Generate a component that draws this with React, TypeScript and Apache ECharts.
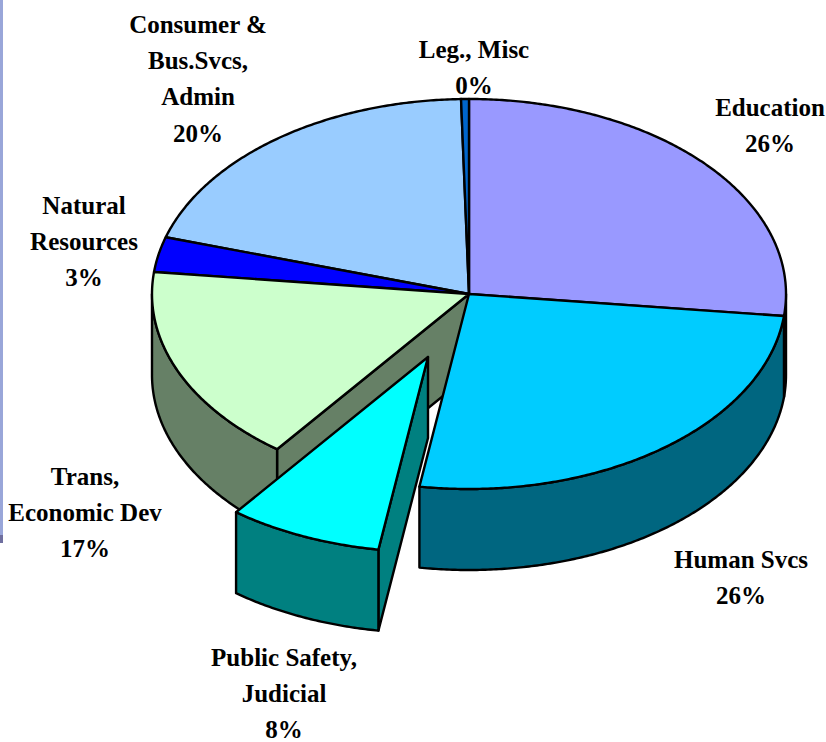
import React, { useEffect, useRef } from "react";
import * as echarts from "echarts";

const categories = ["Education", "Human Svcs", "Public Safety, Judicial", "Trans, Economic Dev", "Natural Resources", "Consumer & Bus.Svcs, Admin", "Leg., Misc"];
const values = [26.8, 25.7, 7.85, 16.45, 2.9, 19.9, 0.4];
const labelLines = [["Education", "26%"], ["Human Svcs", "26%"], ["Public Safety,", "Judicial", "8%"], ["Trans,", "Economic Dev", "17%"], ["Natural", "Resources", "3%"], ["Consumer &", "Bus.Svcs,", "Admin", "20%"], ["Leg., Misc", "0%"]];
const topColors = ["#9999FF", "#00CCFF", "#00FFFF", "#CCFFCC", "#0000FF", "#99CCFF", "#0066CC"];
const wallColors = ["#666699", "#006680", "#008080", "#668066", "#000099", "#668099", "#004488"];
const exploded = [false, false, true, false, false, false, false];
const drawOrder = [0, 5, 6, 4, 3, 1, 2];

const PIE = { cx: 469, cy: 294, rx: 317, ry: 195, depth: 81, dx: -41, dy: 63 };
const LABEL_POS = [[770, 107], [741, 559], [284, 657], [85, 476], [84, 205], [198, 24], [474, 49]];
const LINE_STEP = 36.4;

const total = values.reduce((a, b) => a + b, 0);
const starts: number[] = [];
values.reduce((acc, v, i) => { starts[i] = (acc / total) * 360; return acc + v; }, 0);

function renderItem(_params: any, api: any) {
  const idx = api.value(1) as number;
  const sweep = ((api.value(0) as number) / total) * 360;
  const a0 = starts[idx];
  const a1 = a0 + sweep;
  const ox = PIE.cx + (exploded[idx] ? PIE.dx : 0);
  const oy = PIE.cy + (exploded[idx] ? PIE.dy : 0);
  const pt = (deg: number, drop = 0): number[] => {
    const t = (deg * Math.PI) / 180;
    return [ox + PIE.rx * Math.sin(t), oy - PIE.ry * Math.cos(t) + drop];
  };
  const arc = (from: number, to: number, drop = 0) => {
    const pts: number[][] = [];
    const n = Math.max(2, Math.ceil(to - from) * 2);
    for (let k = 0; k <= n; k++) pts.push(pt(from + ((to - from) * k) / n, drop));
    return pts;
  };
  const lineStyle = { stroke: "#000", lineWidth: 2.4, lineJoin: "round" };
  const children: any[] = [];
  const wall = (points: number[][]) =>
    children.push({ type: "polygon", shape: { points }, style: { ...lineStyle, fill: wallColors[idx] } });
  const center = [ox, oy];
  const centerLow = [ox, oy + PIE.depth];
  // radial cut faces: only those that look towards the viewer
  if (a0 > 180 && a0 < 270) wall([center, pt(a0), pt(a0, PIE.depth), centerLow]);
  if (a1 > 90 && a1 < 180) wall([center, pt(a1), pt(a1, PIE.depth), centerLow]);
  // rim, visible on the front half only
  const f0 = Math.max(a0, 90);
  const f1 = Math.min(a1, 270);
  if (f1 > f0) wall([...arc(f0, f1), ...arc(f0, f1, PIE.depth).reverse()]);
  // top face
  children.push({
    type: "polygon",
    shape: { points: [center, ...arc(a0, a1)] },
    style: { ...lineStyle, fill: topColors[idx] },
  });
  return { type: "group", children };
}

export default function App() {
  const ref = useRef<HTMLDivElement>(null);
  useEffect(() => {
    const chart = echarts.init(ref.current!, undefined, { renderer: "svg" });
    chart.setOption({
      animation: false,
      backgroundColor: "#fff",
      series: [
        {
          type: "custom",
          coordinateSystem: "none",
          silent: true,
          name: "Share",
          renderItem,
          data: drawOrder.map((i) => ({ name: categories[i], value: [values[i], i] })),
        },
      ],
      graphic: {
        elements: [
          { type: "rect", shape: { x: 0, y: 0, width: 3, height: 535 }, style: { fill: "#99A6D9" } },
          { type: "rect", shape: { x: 0, y: 535, width: 3, height: 8 }, style: { fill: "#6F6F9F" } },
          ...labelLines.flatMap((lines, i) =>
            lines.map((text, k) => ({
              type: "text",
              x: LABEL_POS[i][0],
              y: LABEL_POS[i][1] + k * LINE_STEP,
              z: 10,
              style: {
                text,
                fill: "#000",
                fontFamily: "Liberation Serif",
                fontWeight: "bold",
                fontSize: 25,
                lineHeight: 19,
                align: "center",
                verticalAlign: "middle",
              },
            }))
          ),
        ],
      },
    });
    return () => chart.dispose();
  }, []);
  return <div ref={ref} style={{ position: "absolute", left: 0, top: 0, width: 826, height: 742 }} />;
}
